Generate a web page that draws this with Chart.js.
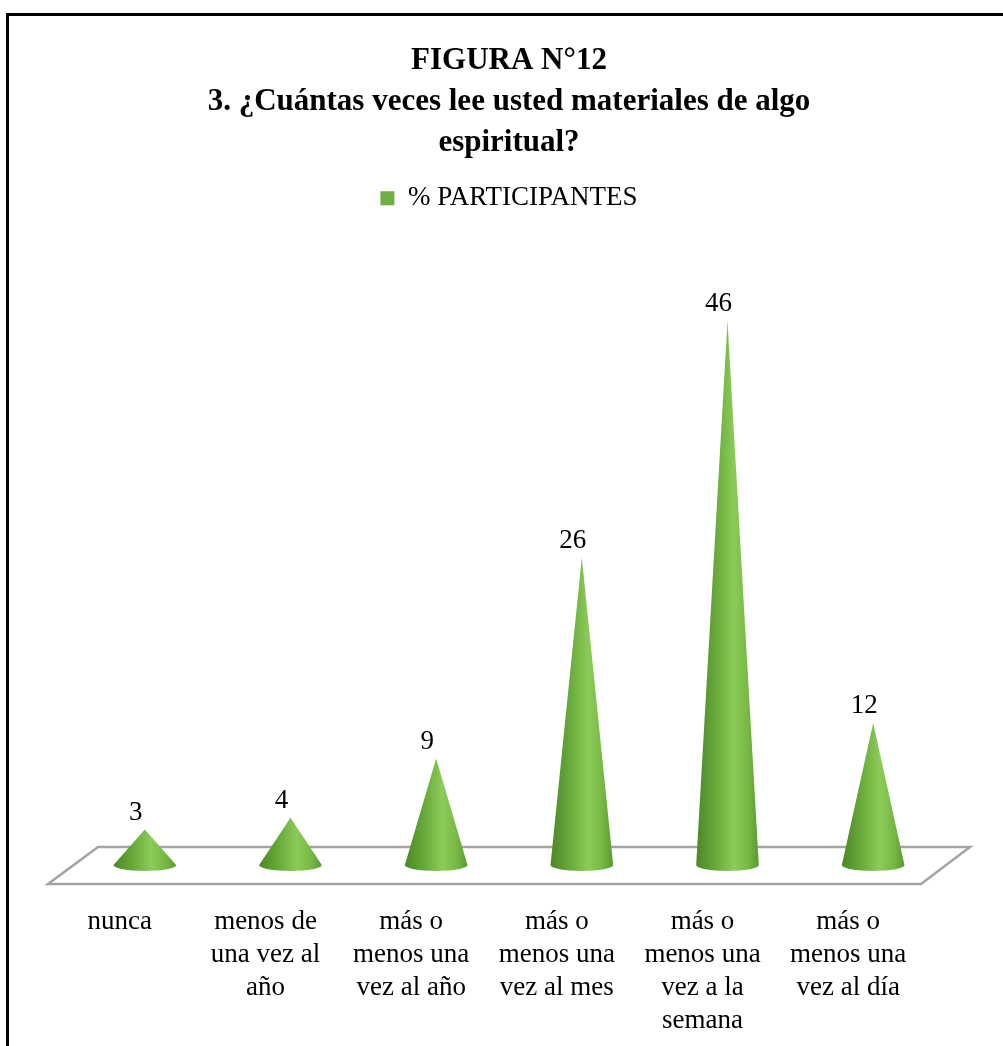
<!DOCTYPE html>
<html>
<head>
<meta charset="utf-8">
<title>Figura 12</title>
<script src="https://cdn.jsdelivr.net/npm/chart.js@4.4.1/dist/chart.umd.min.js"></script>
<style>
    html, body { margin: 0; padding: 0; background: #fff; overflow: hidden; }
    #frame {
        position: absolute; left: 6px; top: 13px;
        width: 1100px; height: 1100px;
        border: 3px solid #000; box-sizing: border-box;
    }
    #wrap { position: absolute; left: 0; top: 0; width: 1003px; height: 1046px; }
</style>
</head>
<body>
<div id="frame"></div>
<div id="wrap"><canvas id="chartCanvas" width="1003" height="1046"></canvas></div>
<script>
const categories = [
    'nunca',
    ['menos de', 'una vez al', 'año'],
    ['más o', 'menos una', 'vez al año'],
    ['más o', 'menos una', 'vez al mes'],
    ['más o', 'menos una', 'vez a la', 'semana'],
    ['más o', 'menos una', 'vez al día']
];
const participantes = [3, 4, 9, 26, 46, 12];
const titleLines = ['FIGURA N°12', '3. ¿Cuántas veces lee usted materiales de algo', 'espiritual?'];
const seriesLabel = '% PARTICIPANTES';

const serif = '"Liberation Serif", "Times New Roman", serif';
const legendGreen = '#70ad47';

document.addEventListener('DOMContentLoaded', () => {
    const chartCanvas = document.getElementById('chartCanvas');

    // gray 3D floor under the cones
    const floorPlugin = {
        id: 'floor',
        beforeDatasetsDraw(chart) {
            const { ctx, chartArea, scales } = chart;
            const y0 = scales.y.getPixelForValue(0);
            ctx.save();
            ctx.strokeStyle = '#a3a3a3';
            ctx.lineWidth = 2.5;
            ctx.beginPath();
            ctx.moveTo(chartArea.left + 26, y0 - 18);
            ctx.lineTo(chartArea.right + 24, y0 - 18);
            ctx.lineTo(chartArea.right - 25, y0 + 19);
            ctx.lineTo(chartArea.left - 24, y0 + 19);
            ctx.closePath();
            ctx.stroke();
            ctx.restore();
        }
    };

    // cones drawn from each bar element, plus value labels
    const conePlugin = {
        id: 'cones',
        afterDatasetsDraw(chart) {
            const { ctx } = chart;
            const meta = chart.getDatasetMeta(0);
            meta.data.forEach((bar, i) => {
                const rx = bar.width / 2;
                const ry = 6;
                const x = bar.x, tip = bar.y, base = bar.base;

                const grad = ctx.createLinearGradient(x - rx, 0, x + rx, 0);
                grad.addColorStop(0, '#4c8826');
                grad.addColorStop(0.3, '#67a83a');
                grad.addColorStop(0.6, '#8ccb58');
                grad.addColorStop(0.82, '#78b946');
                grad.addColorStop(1, '#5a9a30');

                ctx.save();
                ctx.fillStyle = grad;
                ctx.beginPath();
                ctx.moveTo(x - rx, base);
                ctx.lineTo(x, tip);
                ctx.lineTo(x + rx, base);
                ctx.ellipse(x, base, rx, ry, 0, 0, Math.PI, false);
                ctx.closePath();
                ctx.fill();

                ctx.fillStyle = '#000';
                ctx.font = '27px ' + serif;
                ctx.textAlign = 'center';
                ctx.textBaseline = 'alphabetic';
                ctx.fillText(String(participantes[i]), x - 9, tip - 10);
                ctx.restore();
            });
        }
    };

    new Chart(chartCanvas, {
        type: 'bar',
        data: {
            labels: categories,
            datasets: [{
                label: seriesLabel,
                data: participantes,
                backgroundColor: 'rgba(0,0,0,0)',
                borderWidth: 0,
                barPercentage: 0.43,
                categoryPercentage: 1
            }]
        },
        options: {
            responsive: false,
            animation: false,
            devicePixelRatio: 1,
            layout: { padding: { left: 72, right: 57, top: 0, bottom: 0 } },
            plugins: {
                title: {
                    display: true,
                    text: titleLines,
                    color: '#000',
                    font: { family: serif, size: 31, weight: 'bold', lineHeight: 1.32 },
                    padding: { top: 41, bottom: 11 }
                },
                legend: {
                    display: true,
                    labels: {
                        color: '#000',
                        font: { family: serif, size: 27 },
                        boxWidth: 14,
                        boxHeight: 14,
                        padding: 10,
                        generateLabels: () => [{
                            text: seriesLabel,
                            fillStyle: legendGreen,
                            strokeStyle: legendGreen,
                            lineWidth: 0,
                            datasetIndex: 0
                        }]
                    }
                },
                tooltip: { enabled: false }
            },
            scales: {
                x: {
                    grid: { display: false, drawTicks: false },
                    border: { display: false },
                    afterFit: (scale) => { scale.height = 181; },
                    ticks: {
                        color: '#000',
                        font: { family: serif, size: 27, lineHeight: 1.222 },
                        padding: 40,
                        labelOffset: -25,
                        maxRotation: 0,
                        autoSkip: false
                    }
                },
                y: {
                    display: false,
                    min: 0,
                    max: 54.4
                }
            }
        },
        plugins: [floorPlugin, conePlugin]
    });
});
</script>
</body>
</html>
